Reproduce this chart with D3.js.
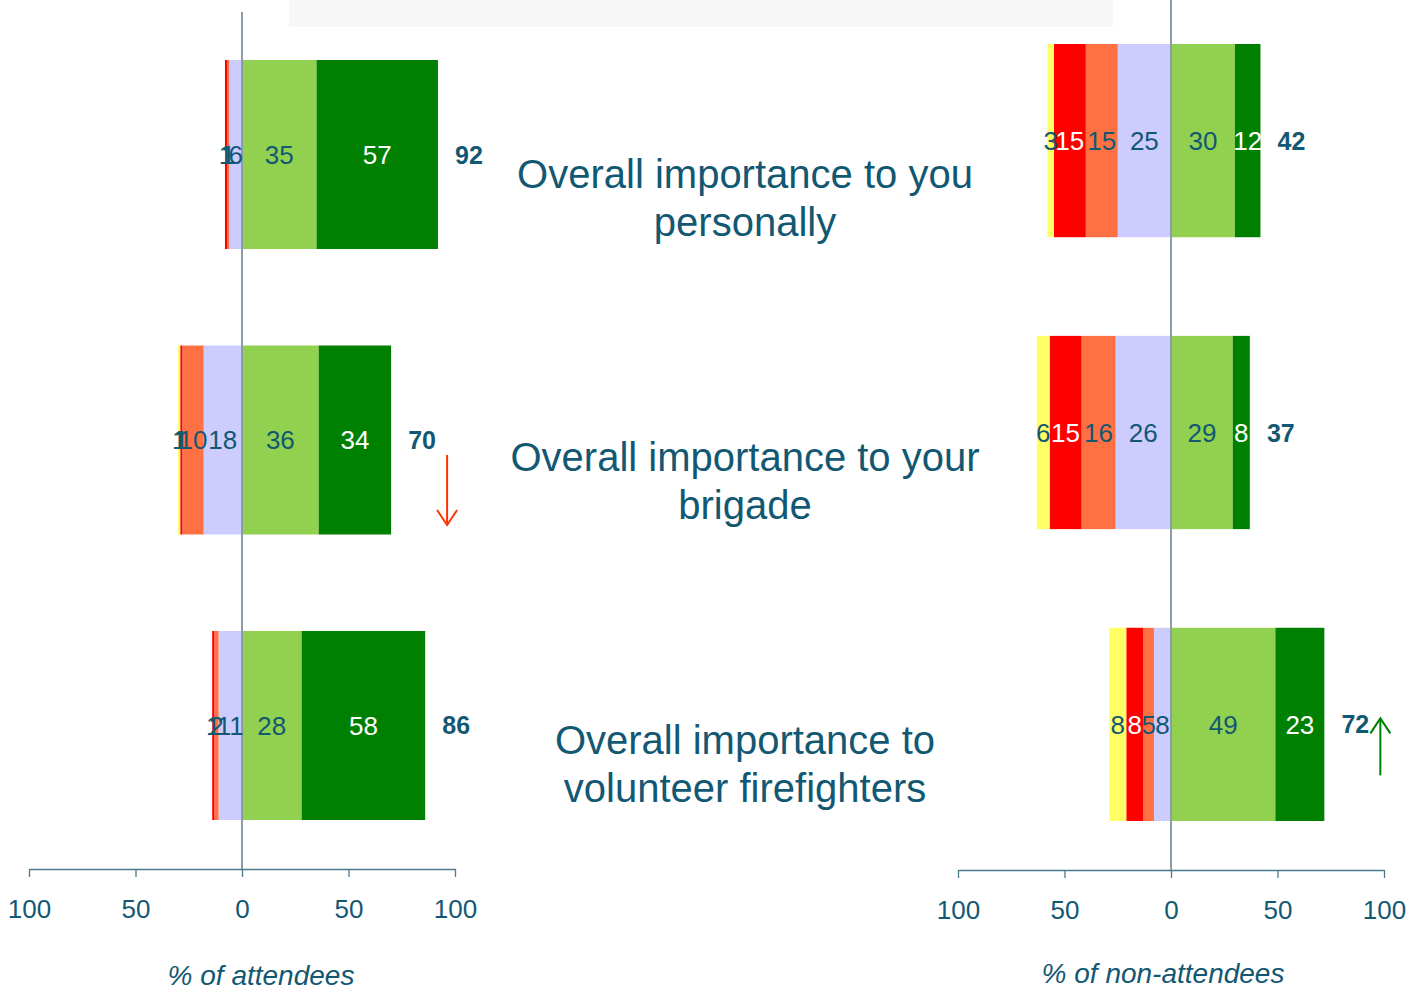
<!DOCTYPE html>
<html>
<head>
<meta charset="utf-8">
<script src="https://cdn.jsdelivr.net/npm/d3@7"></script>
<style>
  html, body { margin: 0; padding: 0; background: #fff; }
  svg { display: block; font-family: "Liberation Sans", Arial, sans-serif; }
</style>
</head>
<body>
<svg id="chart" width="1408" height="990"></svg>
<script>
// Statement labels (one entry per line of text)
const categories = [
  ["Overall importance to you", "personally"],
  ["Overall importance to your", "brigade"],
  ["Overall importance to", "volunteer firefighters"]
];

// Ratings, % of attendees
const attYellow   = [0, 1, 0];
const attRed      = [1, 1, 1];
const attOrange   = [1, 10, 2];
const attLavender = [6, 18, 11];
const attLtGreen  = [35, 36, 28];
const attDkGreen  = [57, 34, 58];

// Ratings, % of non-attendees
const nonYellow   = [3, 6, 8];
const nonRed      = [15, 15, 8];
const nonOrange   = [15, 16, 5];
const nonLavender = [25, 26, 8];
const nonLtGreen  = [30, 29, 49];
const nonDkGreen  = [12, 8, 23];

// Change markers shown beside the net totals
const attTrend = [null, "down", null];
const nonTrend = [null, null, "up"];

const tickValues = [-100, -50, 0, 50, 100];

const colors = {
  yellow: "#FFFF66", red: "#FF0000", orange: "#FF7043",
  lavender: "#CCCCFF", ltGreen: "#92D050", dkGreen: "#008000"
};
const textColor = "#135873";

const svg = d3.select("#chart");

// Light header band
svg.append("rect").attr("x", 289).attr("y", 0).attr("width", 824).attr("height", 27)
  .attr("fill", "#F7F7F7");

function panel(opts) {
  const x = d3.scaleLinear().domain([-100, 100]).range(opts.xRange);
  const y = d3.scaleBand().domain(d3.range(categories.length))
    .range(opts.yRange).paddingInner(0.338).paddingOuter(0);
  const g = svg.append("g");

  // Negative ratings stack leftwards from zero, positive ones rightwards
  const negSeries = [
    { key: "lavender", vals: opts.lavender },
    { key: "orange", vals: opts.orange },
    { key: "red", vals: opts.red },
    { key: "yellow", vals: opts.yellow }
  ];
  const posSeries = [
    { key: "ltGreen", vals: opts.ltGreen },
    { key: "dkGreen", vals: opts.dkGreen }
  ];

  const segs = [];
  categories.forEach((c, i) => {
    let acc = 0;
    negSeries.forEach(s => {
      const v = s.vals[i];
      segs.push({ i, key: s.key, v, x0: -(acc + v), x1: -acc });
      acc += v;
    });
    acc = 0;
    posSeries.forEach(s => {
      const v = s.vals[i];
      segs.push({ i, key: s.key, v, x0: acc, x1: acc + v });
      acc += v;
    });
  });

  g.selectAll("rect.seg").data(segs).join("rect")
    .attr("class", "seg")
    .attr("x", d => x(d.x0))
    .attr("width", d => x(d.x1) - x(d.x0))
    .attr("y", d => y(d.i))
    .attr("height", y.bandwidth())
    .attr("fill", d => colors[d.key]);

  // Zero line
  g.append("line")
    .attr("x1", x(0)).attr("x2", x(0))
    .attr("y1", opts.zeroTop).attr("y2", opts.axisY)
    .attr("stroke", "#8E9CA8").attr("stroke-width", 2);

  // Segment value labels (white on the dark fills when the label fits inside)
  const onDark = d => (d.key === "red" || d.key === "dkGreen") && d.v >= 5;
  g.selectAll("text.seg").data(segs.filter(d => d.v > 0)).join("text")
    .attr("class", "seg")
    .attr("x", d => x((d.x0 + d.x1) / 2))
    .attr("y", d => y(d.i) + y.bandwidth() / 2)
    .attr("dy", "0.36em")
    .attr("text-anchor", "middle")
    .attr("font-size", 26)
    .attr("fill", d => onDark(d) ? "#FFFFFF" : textColor)
    .text(d => d.v);

  // Net positive totals
  const totals = categories.map((c, i) => opts.ltGreen[i] + opts.dkGreen[i]);
  g.selectAll("text.total").data(totals).join("text")
    .attr("class", "total")
    .attr("x", d => x(d) + 31)
    .attr("y", (d, i) => y(i) + y.bandwidth() / 2)
    .attr("dy", "0.36em")
    .attr("text-anchor", "middle")
    .attr("font-size", 25)
    .attr("font-weight", "bold")
    .attr("fill", textColor)
    .text(d => d);

  // Trend arrows
  opts.trend.forEach((t, i) => {
    if (!t) return;
    const ax = x(totals[i]) + 56;
    const c = y(i) + y.bandwidth() / 2;
    const col = t === "down" ? "#FF3300" : "#008000";
    const tail = t === "down" ? c + 15 : c + 51;
    const tip = t === "down" ? c + 85 : c - 6;
    const dir = t === "down" ? -1 : 1;
    g.append("line").attr("x1", ax).attr("x2", ax).attr("y1", tail).attr("y2", tip)
      .attr("stroke", col).attr("stroke-width", 2);
    g.append("path")
      .attr("d", `M${ax - 10},${tip + dir * 15} L${ax},${tip} L${ax + 10},${tip + dir * 15}`)
      .attr("fill", "none").attr("stroke", col).attr("stroke-width", 2);
  });

  // Axis
  const axis = d3.axisBottom(x).tickValues(tickValues)
    .tickFormat(d => Math.abs(d)).tickSize(8).tickSizeOuter(0);
  const ag = g.append("g").attr("transform", `translate(0,${opts.axisY})`).call(axis);
  ag.select(".domain").attr("stroke", "#4A7A8C").attr("stroke-width", 1.3);
  ag.selectAll(".tick line").attr("stroke", "#4A7A8C").attr("stroke-width", 1.3);
  ag.selectAll(".tick text").attr("fill", textColor).attr("font-size", 26)
    .attr("font-family", "Liberation Sans, Arial, sans-serif")
    .attr("y", 31).attr("dy", "0.71em");

  g.append("text")
    .attr("x", opts.titleX).attr("y", opts.titleY)
    .attr("text-anchor", "middle")
    .attr("font-size", 28).attr("font-style", "italic")
    .attr("fill", textColor)
    .text(opts.title);
}

panel({
  xRange: [29, 455], yRange: [60, 820], zeroTop: 12, axisY: 869,
  yellow: attYellow, red: attRed, orange: attOrange, lavender: attLavender,
  ltGreen: attLtGreen, dkGreen: attDkGreen, trend: attTrend,
  title: "% of attendees", titleX: 261, titleY: 985
});

panel({
  xRange: [958, 1384], yRange: [44, 821], zeroTop: 0, axisY: 870,
  yellow: nonYellow, red: nonRed, orange: nonOrange, lavender: nonLavender,
  ltGreen: nonLtGreen, dkGreen: nonDkGreen, trend: nonTrend,
  title: "% of non-attendees", titleX: 1163, titleY: 983
});

// Statement text in the centre column
const ty = d3.scalePoint().domain(d3.range(categories.length)).range([198, 764]);
const tg = svg.append("g");
categories.forEach((lines, i) => {
  const t = tg.append("text")
    .attr("x", 745)
    .attr("y", ty(i) - 24)
    .attr("text-anchor", "middle")
    .attr("font-size", 40)
    .attr("fill", textColor);
  lines.forEach((ln, k) => {
    t.append("tspan").attr("x", 745).attr("dy", k === 0 ? "0.36em" : 48).text(ln);
  });
});
</script>
</body>
</html>
